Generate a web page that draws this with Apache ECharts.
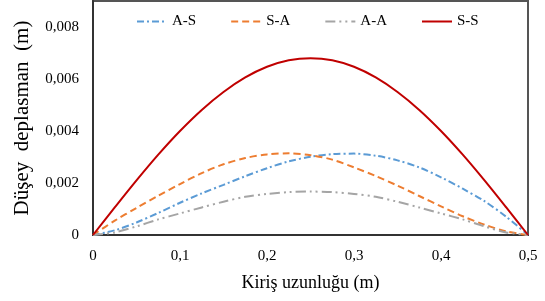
<!DOCTYPE html>
<html>
<head>
<meta charset="utf-8">
<script src="https://cdn.jsdelivr.net/npm/echarts@6/dist/echarts.min.js"></script>
<style>
  html, body { margin: 0; padding: 0; background: #fff; }
  #container { width: 545px; height: 301px; }
</style>
</head>
<body>
<div id="container"></div>
<script>
let chart = echarts.init(document.getElementById('container'));

// beam position (m)
var xValues = [0, 0.025, 0.05, 0.075, 0.1, 0.125, 0.15, 0.175, 0.2, 0.225, 0.25,
    0.275, 0.3, 0.325, 0.35, 0.375, 0.4, 0.425, 0.45, 0.475, 0.5];

// vertical deflection (m)
var asValues = [0, 0.00018, 0.00048, 0.00085, 0.00124, 0.0016, 0.00193, 0.00226, 0.00257, 0.00283, 0.00301,
    0.00311, 0.00313, 0.00305, 0.00287, 0.0026, 0.00222, 0.00178, 0.0013, 0.0007, 0];
var saValues = [0, 0.00055, 0.00104, 0.00151, 0.00196, 0.00238, 0.00272, 0.00296, 0.0031, 0.00314, 0.00307,
    0.0029, 0.0026, 0.00227, 0.0019, 0.0015, 0.0011, 0.00072, 0.0004, 0.00014, 0];
var aaValues = [0, 0.0001, 0.00033, 0.0006, 0.00083, 0.00106, 0.00128, 0.00147, 0.00158, 0.00165, 0.00167,
    0.00165, 0.00158, 0.00147, 0.00128, 0.00106, 0.00083, 0.0006, 0.00033, 0.0001, 0];
var ssValues = [0, 0.00106, 0.0021, 0.00309, 0.004, 0.00481, 0.0055, 0.00606, 0.00647, 0.00672, 0.0068,
    0.00672, 0.00647, 0.00606, 0.0055, 0.00481, 0.004, 0.00309, 0.0021, 0.00106, 0];

var seriesNames = ['A-S', 'S-A', 'A-A', 'S-S'];
var seriesColors = ['#5B9BD5', '#ED7D31', '#A5A5A5', '#C00000'];
var seriesDash = [[7, 3, 2, 3], [7, 4], [10, 4, 2, 4, 2, 4], 'solid'];

var font = 'Liberation Serif';

function pairs(ys) {
    return xValues.map((x, i) => [x, ys[i]]);
}

function comma(v, digits) {
    if (v === 0) return '0';
    return v.toFixed(digits).replace('.', ',');
}

var allValues = [asValues, saValues, aaValues, ssValues];

var option = {
    animation: false,
    textStyle: { fontFamily: font },
    legend: {
        top: 9,
        left: 131,
        itemWidth: 30,
        itemHeight: 10,
        itemGap: 34,
        itemStyle: { opacity: 0 },
        textStyle: { fontFamily: font, fontSize: 15, color: '#000' },
        data: seriesNames,
    },
    grid: {
        left: 93,
        right: 17,
        top: 1,
        bottom: 66,
        show: true,
        borderColor: '#555',
        borderWidth: 2,
    },
    xAxis: {
        type: 'value',
        min: 0,
        max: 0.5,
        interval: 0.1,
        name: 'Kiriş uzunluğu (m)',
        nameLocation: 'middle',
        nameGap: 39,
        nameTextStyle: { fontFamily: font, fontSize: 18, color: '#000' },
        axisLine: { show: true, lineStyle: { color: '#333', width: 2 } },
        axisTick: { show: false },
        splitLine: { show: false },
        axisLabel: {
            margin: 14,
            fontFamily: font,
            fontSize: 15,
            color: '#000',
            formatter: v => comma(v, 1),
        },
    },
    yAxis: {
        type: 'value',
        min: 0,
        max: 0.009,
        interval: 0.002,
        name: 'Düşey  deplasman  (m)',
        nameLocation: 'middle',
        nameGap: 60,
        nameTextStyle: { fontFamily: font, fontSize: 21, color: '#000' },
        axisLine: { show: true, lineStyle: { color: '#333', width: 2 } },
        axisTick: { show: false },
        splitLine: { show: false },
        axisLabel: {
            margin: 14,
            fontFamily: font,
            fontSize: 15,
            color: '#000',
            showMaxLabel: false,
            formatter: v => v > 0.0085 ? '' : comma(v, 3),
        },
    },
    series: [],
};

seriesNames.forEach((name, i) => {
    option.series.push({
        name: name,
        type: 'line',
        showSymbol: false,
        symbol: 'none',
        smooth: 0.3,
        color: seriesColors[i],
        lineStyle: { width: 2, type: seriesDash[i], color: seriesColors[i] },
        data: pairs(allValues[i]),
        z: i == 3 ? 5 : 3,
    });
});

chart.setOption(option);
</script>
</body>
</html>
